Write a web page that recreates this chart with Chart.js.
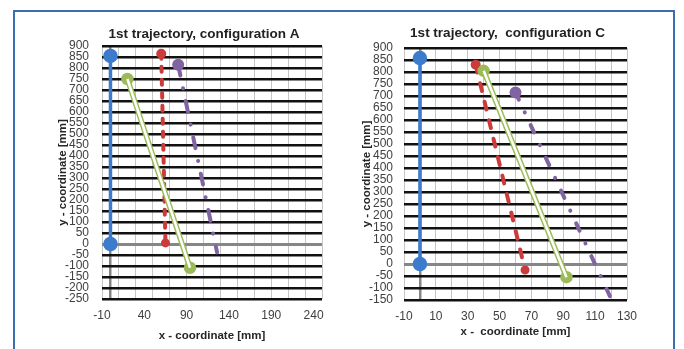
<!DOCTYPE html>
<html>
<head>
<meta charset="utf-8">
<script src="https://cdn.jsdelivr.net/npm/chart.js@4.4.1/dist/chart.umd.min.js"></script>
<style>
  html, body { margin: 0; padding: 0; background: #fff; }
  body { width: 684px; height: 349px; position: relative; overflow: hidden; }
  .frame { position: absolute; left: 13px; top: 10px; width: 662px; height: 360px; border: 2px solid #3b6db3; box-sizing: border-box; }
  .box { position: absolute; top: 14px; height: 335px; }
  #box-a { left: 18px; width: 320px; }
  #box-c { left: 346px; width: 326px; }
</style>
</head>
<body>
<div class="frame"></div>
<div class="box" id="box-a"><canvas id="chart-a"></canvas></div>
<div class="box" id="box-c"><canvas id="chart-c"></canvas></div>
<script>
// configuration A, [x, y] in mm
const originA = [[0, 0], [0, 855]];
const redA = [[60, 865], [65, 5]];
const greenA = [[20, 750], [94, -108]];
const purpleA = [[80, 815], [126, -38]];

// configuration C
const originC = [[0, 0], [0, 858]];
const redC = [[35, 830], [66, -25]];
const greenC = [[40, 805], [92, -55]];
const purpleC = [[60, 715], [120, -145]];

const titleA = "1st trajectory, configuration A";
const titleC = "1st trajectory,  configuration C";
const xTitleA = "x - coordinate [mm]";
const xTitleC = "x -  coordinate [mm]";
const yTitle = "y - coordinate [mm]";

const FONT = "'Liberation Sans', Arial, sans-serif";
const BLUE = "#3d7ccc";
const RED = "#cc3b3b";
const GREEN = "#9bbb59";
const PURPLE = "#8064a2";

function pts(list) {
  return list.map(([x, y]) => ({ x, y }));
}

// shift the title block so it sits slightly left of the plot centre
const titleShift = {
  id: "titleShift",
  afterLayout(chart) {
    const t = chart.titleBlock;
    if (!t) return;
    t.left = chart.chartArea.left - 16;
    t.right = chart.chartArea.right;
  }
};

function buildChart(id, opts) {
  // lower order is painted last (on top)
  const datasets = [
    {
      data: pts(opts.origin),
      borderColor: BLUE,
      backgroundColor: BLUE,
      borderWidth: 3.5,
      pointRadius: 5.5,
      order: 0
    },
    {
      data: pts(opts.red),
      borderColor: RED,
      backgroundColor: RED,
      borderWidth: 4,
      borderDash: opts.redDash,
      borderCapStyle: "round",
      pointRadius: [3, 2.5],
      order: 3
    },
    {
      data: pts(opts.green),
      borderColor: GREEN,
      backgroundColor: GREEN,
      borderWidth: 5.5,
      pointRadius: 3.5,
      order: 2
    },
    {
      // white core makes the green line read as a double line
      data: pts(opts.green),
      borderColor: "#ffffff",
      borderWidth: 2.5,
      pointRadius: 0,
      order: 1
    },
    {
      data: pts(opts.purple),
      borderColor: PURPLE,
      backgroundColor: PURPLE,
      borderWidth: 4,
      borderDash: opts.purpleDash,
      borderCapStyle: "round",
      pointRadius: [4, 0],
      order: 4
    }
  ];

  return new Chart(document.getElementById(id), {
    type: "line",
    data: { datasets },
    plugins: [titleShift],
    options: {
      responsive: true,
      maintainAspectRatio: false,
      animation: false,
      layout: { padding: opts.padding },
      plugins: {
        legend: { display: false },
        tooltip: { enabled: false },
        title: {
          display: true,
          text: opts.title,
          color: "#222",
          font: { family: FONT, size: 13.5, weight: "bold" },
          padding: { top: 0, bottom: opts.titleGap }
        }
      },
      elements: { line: { tension: 0 } },
      scales: {
        x: {
          type: "linear",
          min: opts.xMin,
          max: opts.xMax,
          border: { display: false },
          afterBuildTicks: scale => {
            const ticks = [];
            for (let v = opts.xMin; v <= opts.xMax; v += 10) ticks.push({ value: v });
            scale.ticks = ticks;
          },
          afterFit: scale => { scale.height = opts.xHeight; },
          ticks: {
            color: "#404040",
            padding: 9.5,
            maxRotation: 0,
            autoSkip: false,
            font: { family: FONT, size: 12 },
            callback: v => ((v - opts.xMin) % opts.xLabelStep === 0 ? String(v) : "")
          },
          grid: {
            drawTicks: false,
            color: ctx => {
              const v = ctx.tick && ctx.tick.value;
              if (v === 0) return "#868686";
              return (v - opts.xMin) % opts.xGridStep === 0 ? "#c6c6c6" : "rgba(0,0,0,0)";
            },
            lineWidth: ctx => (ctx.tick && ctx.tick.value === 0 ? 2.5 : 1)
          },
          title: {
            display: true,
            text: opts.xTitle,
            color: "#262626",
            font: { family: FONT, size: 11.5, weight: "bold" },
            padding: { top: 0, bottom: opts.xTitlePad }
          }
        },
        y: {
          type: "linear",
          min: opts.yMin,
          max: 900,
          border: { display: false },
          afterFit: scale => { scale.width = opts.yWidth; },
          ticks: {
            stepSize: 50,
            autoSkip: false,
            color: "#404040",
            padding: opts.yTickPad,
            font: { family: FONT, size: 12 }
          },
          grid: {
            drawTicks: false,
            color: ctx => (ctx.tick && ctx.tick.value === 0 ? "#868686" : "#111111"),
            lineWidth: ctx => (ctx.tick && ctx.tick.value === 0 ? 3 : 2.5)
          },
          title: {
            display: true,
            text: yTitle,
            color: "#262626",
            font: { family: FONT, size: 11.5, weight: "bold" },
            padding: { top: 4, bottom: 0 }
          }
        }
      }
    }
  });
}

buildChart("chart-a", {
  title: titleA,
  xTitle: xTitleA,
  origin: originA,
  red: redA,
  green: greenA,
  purple: purpleA,
  redDash: [5, 8],
  purpleDash: [11, 13, 0.1, 13],
  xMin: -10,
  xMax: 250,
  xLabelStep: 50,
  xGridStep: 20,
  yMin: -250,
  padding: { left: 34, right: 16, top: 12.5, bottom: 0 },
  titleGap: 3.3,
  xHeight: 50,
  xTitlePad: 6,
  yWidth: 50,
  yTickPad: 13
});

buildChart("chart-c", {
  title: titleC,
  xTitle: xTitleC,
  origin: originC,
  red: redC,
  green: greenC,
  purple: purpleC,
  redDash: [8, 11],
  purpleDash: [8, 14, 0.1, 14],
  xMin: -10,
  xMax: 130,
  xLabelStep: 20,
  xGridStep: 10,
  yMin: -150,
  padding: { left: 10, right: 45, top: 11.3, bottom: 0 },
  titleGap: 6.5,
  xHeight: 49,
  xTitlePad: 10,
  yWidth: 48,
  yTickPad: 11
});
</script>
</body>
</html>
